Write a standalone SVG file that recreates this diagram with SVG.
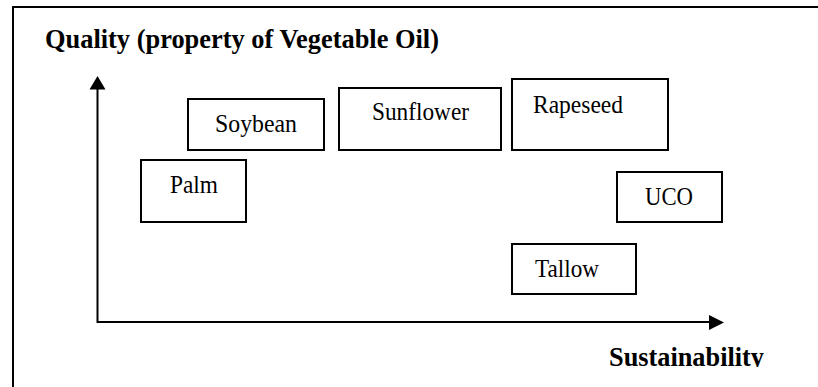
<svg xmlns="http://www.w3.org/2000/svg" width="818" height="387" viewBox="0 0 818 387">
  <style>
    .frame { fill: none; stroke: #000; stroke-width: 2; }
    .box { fill: #fff; stroke: #000; stroke-width: 2; }
    .axis { stroke: #000; stroke-width: 2; fill: none; }
    .label { font-family: "Liberation Serif", "Times New Roman", serif; font-size: 25px; fill: #000; }
    .heading { font-family: "Liberation Serif", "Times New Roman", serif; font-size: 27px; font-weight: bold; fill: #000; }
  </style>
  <defs>
    <clipPath id="bottomClip">
      <rect x="0" y="0" width="818" height="367"/>
    </clipPath>
  </defs>
  <rect width="818" height="387" fill="#fff"/>

  <!-- outer frame (open to the right and bottom) -->
  <path class="frame" d="M13,387 V7 H818"/>

  <!-- axis titles -->
  <text class="heading" x="45" y="48" textLength="394" lengthAdjust="spacingAndGlyphs">Quality (property of Vegetable Oil)</text>
  <text class="heading" x="609" y="366" textLength="155" lengthAdjust="spacingAndGlyphs" clip-path="url(#bottomClip)">Sustainability</text>

  <!-- axes -->
  <g id="connectors">
    <path class="axis" d="M97.5,89 V322 H709"/>
    <polygon points="97.5,76 89.5,89.5 105.5,89.5" fill="#000"/>
    <polygon points="724,322.5 709,315 709,330" fill="#000"/>
  </g>

  <g id="soybean">
    <rect class="box" x="188" y="99" width="136" height="51"/>
    <text class="label" x="215" y="132" textLength="82" lengthAdjust="spacingAndGlyphs">Soybean</text>
  </g>
  <g id="sunflower">
    <rect class="box" x="339" y="88" width="162" height="62"/>
    <text class="label" x="372" y="120" textLength="97" lengthAdjust="spacingAndGlyphs">Sunflower</text>
  </g>
  <g id="rapeseed">
    <rect class="box" x="512" y="79" width="156" height="71"/>
    <text class="label" x="533" y="113" textLength="90" lengthAdjust="spacingAndGlyphs">Rapeseed</text>
  </g>
  <g id="palm">
    <rect class="box" x="141" y="160" width="105" height="62"/>
    <text class="label" x="170" y="193" textLength="48" lengthAdjust="spacingAndGlyphs">Palm</text>
  </g>
  <g id="uco">
    <rect class="box" x="617" y="172" width="105" height="50"/>
    <text class="label" x="645" y="205" textLength="48" lengthAdjust="spacingAndGlyphs">UCO</text>
  </g>
  <g id="tallow">
    <rect class="box" x="512" y="244" width="124" height="50"/>
    <text class="label" x="535" y="277" textLength="64" lengthAdjust="spacingAndGlyphs">Tallow</text>
  </g>
</svg>
